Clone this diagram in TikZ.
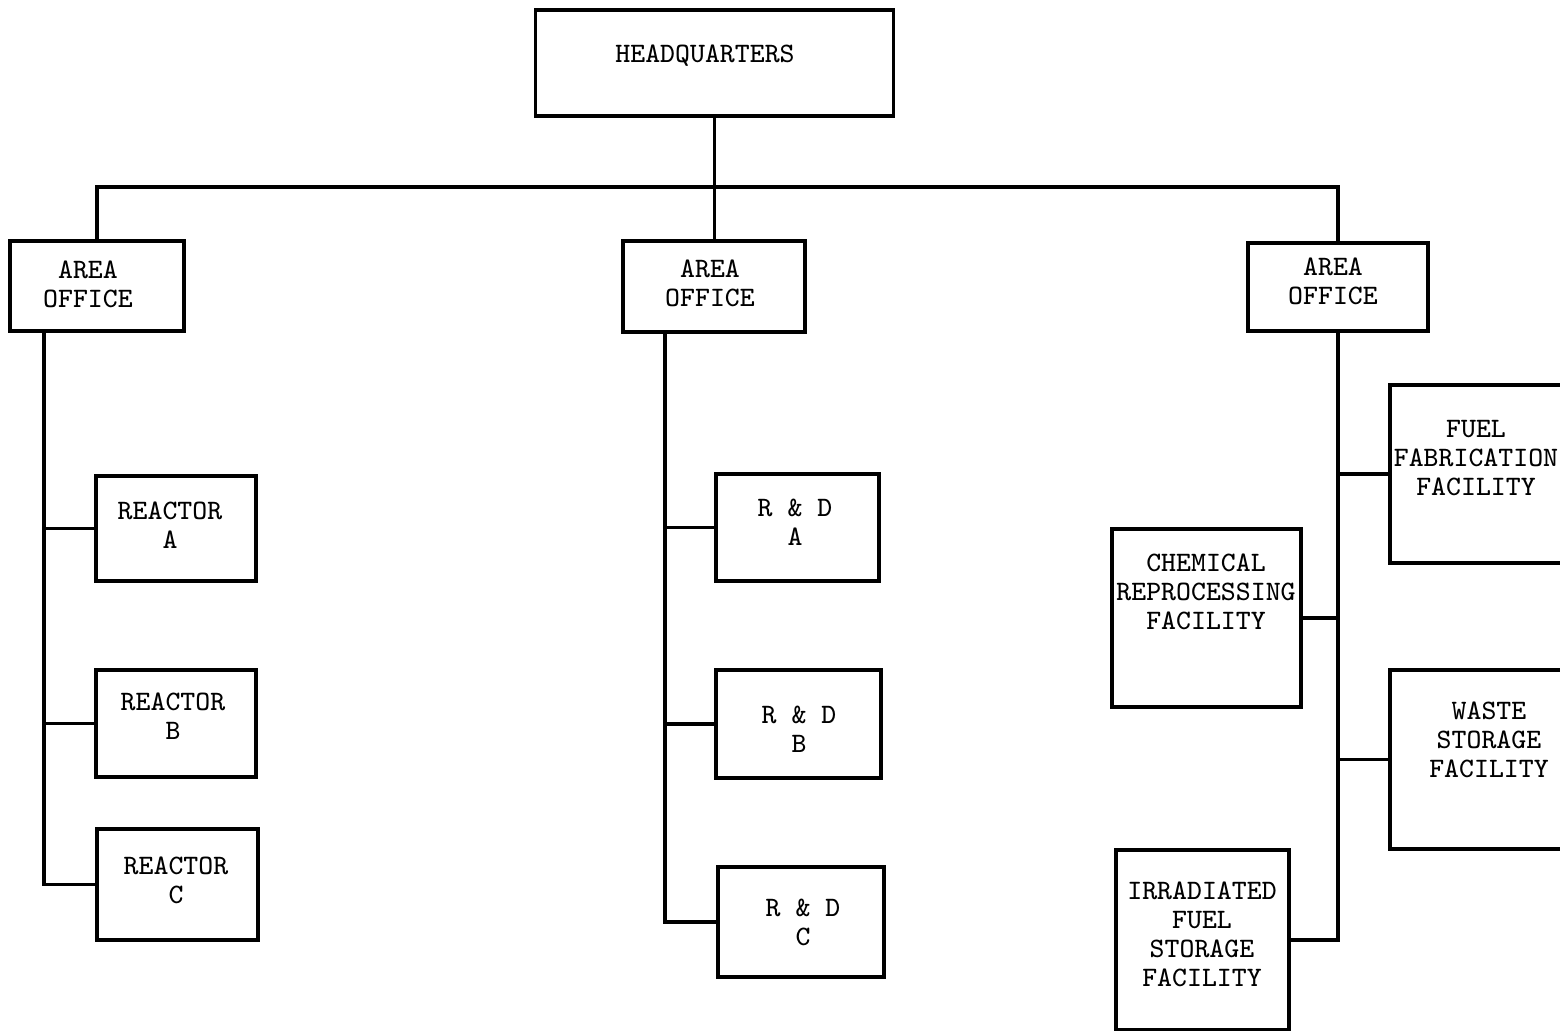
\documentclass[tikz,border=0pt]{standalone}
\begin{document}
\begin{tikzpicture}[x=0.01cm,y=-0.01cm,
  box/.style={draw,line width=0.9pt,minimum width=#1,inner sep=0pt},
  txt/.style={font=\ttfamily\fontsize{8}{8.25}\selectfont,align=center,inner sep=0pt},
  link/.style={line width=0.9pt}]
\clip (0,0) rectangle (1560,1031);
\fill[white] (0,0) rectangle (1560,1031);
% boxes
\node[box=3.57cm,minimum height=1.06cm] (hq) at (714.5,63) {};
\node[box=1.74cm,minimum height=0.90cm] (aoL) at (97,286) {};
\node[box=1.82cm,minimum height=0.91cm] (aoM) at (714,286.5) {};
\node[box=1.80cm,minimum height=0.88cm] (aoR) at (1338,287) {};
\node[box=1.60cm,minimum height=1.05cm] (rA) at (176,528.5) {};
\node[box=1.60cm,minimum height=1.07cm] (rB) at (176,723.5) {};
\node[box=1.61cm,minimum height=1.11cm] (rC) at (177.5,884.5) {};
\node[box=1.63cm,minimum height=1.07cm] (dA) at (797.5,527.5) {};
\node[box=1.65cm,minimum height=1.08cm] (dB) at (798.5,724) {};
\node[box=1.66cm,minimum height=1.10cm] (dC) at (801,922) {};
\node[box=2.10cm,minimum height=1.78cm] (ff) at (1495,474) {};
\node[box=1.89cm,minimum height=1.78cm] (ch) at (1206.5,618) {};
\node[box=2.10cm,minimum height=1.79cm] (ws) at (1495,759.5) {};
\node[box=1.73cm,minimum height=1.80cm] (ir) at (1202.5,940) {};
% texts
\node[txt] (thq) at (705,56) {HEADQUARTERS};
\node[txt] (taoL) at (88,284) {AREA\\OFFICE};
\node[txt] (taoM) at (710,283) {AREA\\OFFICE};
\node[txt] (taoR) at (1333,281) {AREA\\OFFICE};
\node[txt] (trA) at (170,525) {REACTOR\\A};
\node[txt] (trB) at (173,716) {REACTOR\\B};
\node[txt] (trC) at (176,880) {REACTOR\\C};
\node[txt] (tdA) at (795,522) {R \& D\\A};
\node[txt] (tdB) at (799,729) {R \& D\\B};
\node[txt] (tdC) at (803,922) {R \& D\\C};
\node[txt] (tff) at (1476,458) {FUEL\\FABRICATION\\FACILITY};
\node[txt] (tch) at (1206,592) {CHEMICAL\\REPROCESSING\\FACILITY};
\node[txt] (tws) at (1489,740) {WASTE\\STORAGE\\FACILITY};
\node[txt] (tir) at (1202,934.5) {IRRADIATED\\FUEL\\STORAGE\\FACILITY};
% connectors
\coordinate (bus) at (712,187);
\coordinate (spL) at (44,331);
\coordinate (spM) at (665,332);
\coordinate (spR) at (1338,331);
\draw[link] (hq.south) -- (hq.south |- aoM.north);
\draw[link] (aoL.north) |- (bus) -| (aoR.north);
\draw[link] (spL) |- (rC.west);
\draw[link] (rA.west) -- (spL |- rA.west);
\draw[link] (rB.west) -- (spL |- rB.west);
\draw[link] (spM) |- (dC.west);
\draw[link] (dA.west) -- (spM |- dA.west);
\draw[link] (dB.west) -- (spM |- dB.west);
\draw[link] (spR) |- (ir.east);
\draw[link] (ff.west) -- (spR |- ff.west);
\draw[link] (ch.east) -- (spR |- ch.east);
\draw[link] (ws.west) -- (spR |- ws.west);
\end{tikzpicture}
\end{document}
